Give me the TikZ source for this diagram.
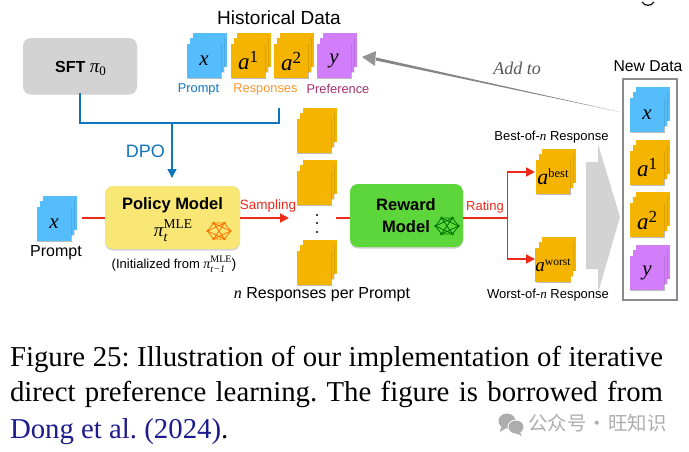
\documentclass[tikz,border=0pt]{standalone}
\usepackage{fontspec}
\setmainfont{Liberation Sans}
\newfontfamily\tms{Liberation Serif}
\newfontfamily\cjk{Noto Sans CJK SC}
\usetikzlibrary{arrows.meta}
\frenchspacing
\definecolor{cblue}{HTML}{55BDFB}
\definecolor{cgold}{HTML}{F4B400}
\definecolor{cpurp}{HTML}{D27EFB}
\definecolor{lblue}{HTML}{0F75BC}
\definecolor{lred}{HTML}{EE2A1B}
\definecolor{lorange}{HTML}{F7962E}
\definecolor{lpref}{HTML}{A3306F}
\definecolor{cyell}{HTML}{F8E775}
\definecolor{cgreen}{HTML}{5CD63A}
\definecolor{cgrey}{HTML}{D3D3D3}
\definecolor{citeblue}{HTML}{1C1C8C}
\newcommand{\fsz}[1]{\fontsize{#1}{#1}\selectfont}
\newcommand{\mi}[1]{{\tms\itshape #1}}
\newcommand{\aup}[2]{\fsz{23}\mi{a}\raisebox{7pt}{\fsz{#2}\tms #1}}
\newcommand{\mle}[3]{\fsz{#1}\mi{π}\rlap{\raisebox{-0.27em}{\fsz{#2}\mi{#3}}}\raisebox{0.42em}{\fsz{#2}\tms MLE}}
\tikzset{
  x=1pt,y=-1pt,
  txt/.style={inner sep=0pt,outer sep=0pt,align=center},
  sq/.style={inner sep=0pt,outer sep=0pt,minimum width=34pt,minimum height=34pt},
  bluel/.style={draw=lblue,line width=1.5pt},
  redl/.style={draw=lred,line width=1.7pt},
  redar/.style={redl,-{Triangle[length=9pt,width=9pt]}},
  bigbox/.style={rounded corners=8pt,inner sep=0pt,outer sep=0pt},
}
% name, left, top, colour, content
\newcommand{\stk}[5]{%
  \fill[black,opacity=.18] (#2+1,#3+1) rectangle (#2+35,#3+35);
  \fill[#4] (#2+6,#3-11.5) rectangle (#2+40,#3+22.5);
  \fill[black,opacity=.10] (#2+3,#3-5.7) rectangle (#2+38,#3+29);
  \fill[#4] (#2+3,#3-5.7) rectangle (#2+37,#3+28.3);
  \fill[black,opacity=.10] (#2,#3) rectangle (#2+35,#3+34.6);
  \node[sq,fill=#4] (#1) at (#2+17,#3+17) {#5};
}
\newcommand{\netpic}[2]{%
  \begin{scope}[shift={#1},draw=#2,line width=.8pt,fill=#2]
    \foreach \a/\b in {-11.5/0,-5.5/-8,5.5/-8,11.5/0,5.5/8,-5.5/8}{\fill (\a,\b) circle (1.3pt);}
    \draw (-11.5,0)--(-5.5,-8)--(5.5,-8)--(11.5,0)--(5.5,8)--(-5.5,8)--cycle;
    \draw (-11.5,0)--(5.5,-8)--(-5.5,8)--(11.5,0)--(-5.5,-8)--(5.5,8)--cycle;
  \end{scope}}
\begin{document}
\begin{tikzpicture}
\useasboundingbox (0,0) rectangle (689,451);
\fill[white] (0,0) rectangle (689,451);

% boxes
\fill[black,opacity=.18,rounded corners=8pt] (23,40) rectangle (137,94.5);
\fill[black,opacity=.18,rounded corners=8pt] (105,188) rectangle (240,250.5);
\fill[black,opacity=.18,rounded corners=8pt] (350,186) rectangle (463,248.5);
\node[bigbox,fill=cgrey,minimum width=114pt,minimum height=55pt] (sft) at (80,65.5) {};
\node[bigbox,fill=cyell,minimum width=135pt,minimum height=63pt] (policy) at (172.5,217.5) {};
\node[bigbox,fill=cgreen,minimum width=113pt,minimum height=63pt] (reward) at (406.5,215.5) {};

% historical
\stk{hx}{187}{44}{cblue}{\fsz{21}\mi{x}}
\stk{ha}{231}{44}{cgold}{\aup{1}{17}}
\stk{hb}{274}{44}{cgold}{\aup{2}{17}}
\stk{hy}{317}{44}{cpurp}{\fsz{21}\mi{y}}

% middle stacks
\stk{ma}{297}{119}{cgold}{}
\stk{mb}{297}{171}{cgold}{}
\foreach \yy in {215,223,232}{\fill[black] (317,\yy) circle (1.2pt);}
\stk{mc}{297}{251}{cgold}{}

% left prompt
\stk{px}{37}{207}{cblue}{\fsz{21}\mi{x}}

% best worst
\stk{best}{536}{160}{cgold}{\raisebox{-3pt}{\fsz{22}\mi{a}}\raisebox{4pt}{\fsz{12.5}\tms best}}
\stk{worst}{536}{248}{cgold}{\raisebox{-3pt}{\fsz{19}\mi{a}}\raisebox{3pt}{\fsz{11.5}\tms worst}}

% big arrow
\fill[cgrey] (586,162)--(598,162)--(598,144)--(620,217)--(598,293)--(598,269)--(586,269)--cycle;

% new data
\node[draw=black!45,line width=2pt,inner sep=0pt,outer sep=0pt,minimum width=54pt,minimum height=221pt] (newbox) at (650,189.5) {};
\stk{nx}{630}{98}{cblue}{\fsz{21}\mi{x}}
\stk{na}{630}{151}{cgold}{\aup{1}{17}}
\stk{nb}{630}{203}{cgold}{\aup{2}{17}}
\stk{ny}{630}{256}{cpurp}{\fsz{21}\mi{y}}

% connectors
\coordinate (resp) at (279,108);
\coordinate (jn) at (172,123);
\coordinate (polin) at (172,178);
\draw[bluel] (sft.south) -- (80,123) -- (279,123) -- (resp);
\draw[bluel,-{Triangle[length=9pt,width=9pt]}] (jn) -- (polin);
\coordinate (pxout) at (82,218);
\coordinate (sampend) at (289,218);
\coordinate (rewin) at (336,218);
\coordinate (polw) at (105,218);
\coordinate (pole) at (240,218);
\coordinate (rewe) at (463,218);
\coordinate (rww) at (350,218);
\draw[redl] (pxout) -- (polw);
\draw[redar] (pole) -- (sampend);
\draw[redl] (rewin) -- (rww);
\coordinate (split) at (507.5,218);
\coordinate (bestin) at (535,172);
\coordinate (worstin) at (535,259);
\draw[redl] (rewe) -- (split);
\draw[redar] (split) |- (bestin);
\draw[redar] (split) |- (worstin);

% add-to arrow
\coordinate (addfrom) at (620,112);
\coordinate (addto) at (362,57);
\fill[black!48] (addfrom) -- (376,57.5) -- (376,60.5) -- cycle;
\fill[black!42] (addto) -- (376,51) -- (375,66) -- cycle;

% labels
\node[txt] (t1) at (279,18) {\fsz{19}Historical Data};
\node[txt,text=lblue] (t2) at (198.5,89) {\fsz{12.8}Prompt};
\node[txt,text=lorange] (t3) at (265.5,89) {\fsz{12.8}Responses};
\node[txt,text=lpref] (t4) at (338,89) {\fsz{12.8}Preference};
\node[txt] (t5) at (80.5,68) {\fsz{16}\textbf{SFT} \fsz{19}\mi{π}\raisebox{-3pt}{\fsz{13}\tms 0}};
\node[txt,text=lblue] (t6) at (145.5,151) {\fsz{18}DPO};
\node[txt] (t7) at (172.5,205) {\fsz{16.5}\textbf{Policy Model}};
\node[txt] (t8) at (173,231) {\mle{19}{13.5}{t}};
\netpic{(219,231)}{orange!90!red}
\node[txt] (t9) at (174,264) {\fsz{13}(Initialized from \mle{14}{10}{t−1})};
\node[txt] (t10) at (56,253) {\fsz{16}Prompt};
\node[txt,text=lred] (t11) at (268,206) {\fsz{13.5}Sampling};
\node[txt] (t12) at (322,295) {\fsz{16}\mi{n} Responses per Prompt};
\node[txt] (t13) at (406,205) {\fsz{16.5}\textbf{Reward}};
\node[txt] (t14) at (406,227) {\fsz{16.5}\textbf{Model}};
\netpic{(447,226)}{green!45!black}
\node[txt,text=lred] (t15) at (485,207) {\fsz{13}Rating};
\node[txt,text=black!65] (t16) at (517,68) {\fsz{18}\mi{Add to}};
\node[txt] (t17) at (648,66) {\fsz{15.7}New Data};
\node[txt] (t18) at (551.5,137) {\fsz{13}Best-of-\mi{n} Response};
\node[txt] (t19) at (548,295) {\fsz{13}Worst-of-\mi{n} Response};

% cut-off letter at the top
\draw[black,line width=1.1pt] (642,2) .. controls (645,6.5) and (651,6.5) .. (654,2);

% caption
\node[txt,anchor=base west] (c1) at (10,366) {\hbox to 653pt{\fsz{28.8}\tms Figure 25: Illustration of our implementation of iterative}};
\node[txt,anchor=base west] (c2) at (10,401) {\hbox to 653pt{\fsz{28.8}\tms direct preference learning. The figure is borrowed from}};
\node[txt,anchor=base west] (c3) at (10,438) {\fsz{28.8}\tms \textcolor{citeblue}{Dong et al. (2024)}.};

% watermark
\fill[black!32] (507,421) ellipse (8.5pt and 7.5pt);
\fill[black!32] (501,427) -- (500,432) -- (506,428) -- cycle;
\fill[white] (516,427) ellipse (8.5pt and 7.5pt);
\fill[black!32] (516,427) ellipse (7.5pt and 6.5pt);
\fill[black!32] (520,432) -- (522,436) -- (515,433) -- cycle;
\node[txt,text=black!32] (wm) at (597.5,423.5) {\cjk\fsz{19.4}公众号\makebox[22pt]{·}旺知识};
\end{tikzpicture}
\end{document}
